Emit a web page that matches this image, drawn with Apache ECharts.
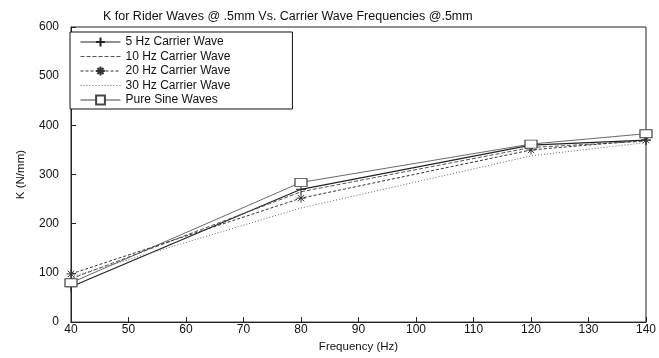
<!DOCTYPE html>
<html><head><meta charset="utf-8">
<script src="https://cdn.jsdelivr.net/npm/echarts@6/dist/echarts.min.js"></script>
<style>html,body{margin:0;padding:0;background:#fff}#c{width:659px;height:358px}</style>
</head><body><div id="c"></div>
<script>
const freqs = [40, 80, 120, 140];
const seriesNames = ['5 Hz Carrier Wave','10 Hz Carrier Wave','20 Hz Carrier Wave','30 Hz Carrier Wave','Pure Sine Waves'];
const hz5 = [72, 270, 360, 370];
const hz10 = [88, 265, 355, 368];
const hz20 = [98, 252, 350, 370];
const hz30 = [92, 232, 338, 365];
const pureSine = [80, 284, 362, 383];
const xTicks = [40,50,60,70,80,90,100,110,120,130,140];
const yTicks = [0,100,200,300,400,500,600];

const F = 'Liberation Sans, Arial, sans-serif';
const plusPath = 'path://M0,5L10,5M5,0L5,10';
const starPath = 'path://M0,5L10,5M5,0L5,10M1.5,1.5L8.5,8.5M8.5,1.5L1.5,8.5';
function pts(arr){ return freqs.map((f,i)=>[f,arr[i]]); }
function mk(name, arr, lineType, color, symbol, size, fill, width){
  return {
    name, type:'line', data:pts(arr), symbol: symbol||'circle', symbolSize:size||6,
    showSymbol: !!symbol,
    lineStyle:{color, width: width||1, type: lineType},
    itemStyle: symbol ? {color: fill||color, borderColor:color, borderWidth:1} : {color, opacity:0},
    emphasis:{disabled:true}, animation:false, z: 3
  };
}
const chart = echarts.init(document.getElementById('c'));
chart.setOption({
  backgroundColor:'#fff',
  animation:false,
  title:{text:'K for Rider Waves @ .5mm Vs. Carrier Wave Frequencies @.5mm', left:98, top:5,
    textStyle:{fontFamily:F, fontSize:12.5, fontWeight:'normal', color:'#111'}},
  legend:{
    orient:'vertical', left:70, top:32, backgroundColor:'#fff', borderColor:'#111', borderWidth:1,
    padding:[4,62,3,10], itemGap:2.5, itemWidth:40, itemHeight:11,
    textStyle:{fontFamily:F, fontSize:12, color:'#111'},
    lineStyle:{width:1},
    data: seriesNames
  },
  grid:{left:71, right:7, top:27, bottom:30, show:true, borderColor:'#222', borderWidth:1},
  xAxis:{
    type:'value', min:40, max:140, interval:10,
    name:'Frequency (Hz)', nameLocation:'middle', nameGap:18,
    nameTextStyle:{fontFamily:F, fontSize:11.5, color:'#111'},
    axisLine:{show:true, onZero:false, lineStyle:{color:'#222'}},
    axisTick:{show:true, inside:true, length:5, lineStyle:{color:'#222'}},
    axisLabel:{fontFamily:F, fontSize:12, color:'#111', margin:2},
    splitLine:{show:false}
  },
  yAxis:{
    type:'value', min:0, max:600, interval:100,
    name:'K (N/mm)', nameLocation:'middle', nameGap:44, nameRotate:90,
    nameTextStyle:{fontFamily:F, fontSize:11.5, color:'#111'},
    axisLine:{show:true, lineStyle:{color:'#222'}},
    axisTick:{show:true, inside:true, length:5, lineStyle:{color:'#222'}},
    axisLabel:{fontFamily:F, fontSize:12, color:'#111', margin:12},
    splitLine:{show:false}
  },
  series:[
    mk(seriesNames[0], hz5, 'solid', '#222', plusPath, 10, 'transparent', 1.2),
    mk(seriesNames[1], hz10, [4,2], '#555', null),
    mk(seriesNames[2], hz20, [3,2], '#333', starPath, 9, 'transparent', 1),
    mk(seriesNames[3], hz30, [1,2], '#666', null),
    mk(seriesNames[4], pureSine, 'solid', '#444', 'rect', [12,8], '#fff', 0.8)
  ]
});
</script></body></html>
